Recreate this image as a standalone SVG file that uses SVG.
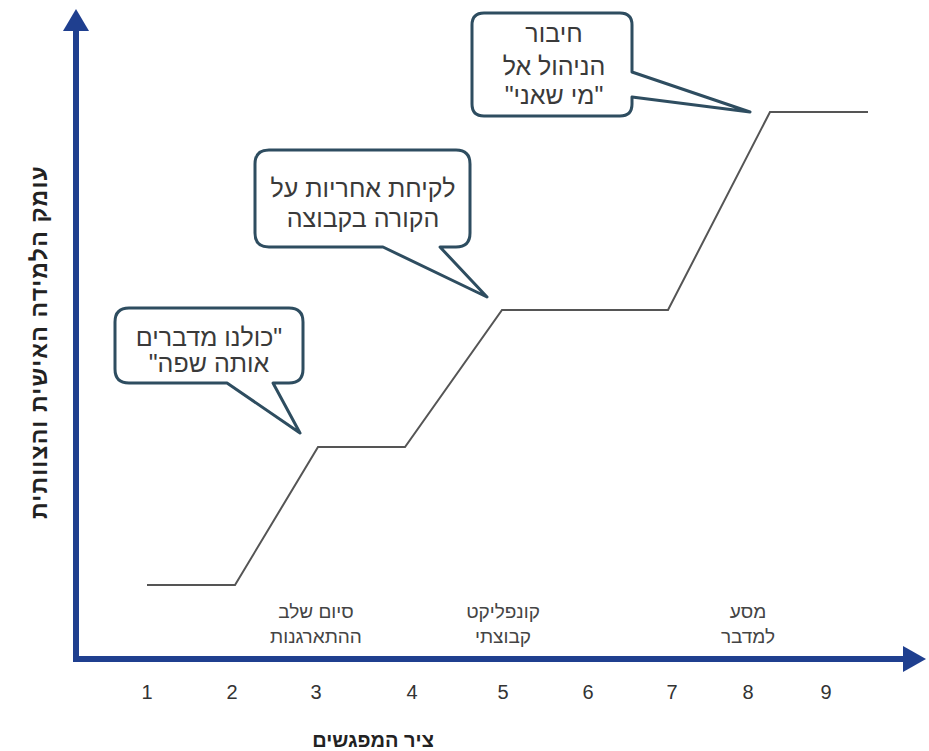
<svg xmlns="http://www.w3.org/2000/svg" width="929" height="751" viewBox="0 0 929 751">
<style>
.axis{stroke:#1f3f8f;stroke-width:6;fill:none}
.head{fill:#1f3f8f}
.step{stroke:#555;stroke-width:2;fill:none}
.call{fill:#fff;stroke:#2e4d60;stroke-width:3;stroke-linejoin:round}
.ct{font-family:"Liberation Sans","DejaVu Sans",sans-serif;font-size:25px;fill:#3a3a3a;text-anchor:middle}
.tick{font-family:"Liberation Sans","DejaVu Sans",sans-serif;font-size:20px;fill:#333;text-anchor:middle}
.lbl{font-family:"Liberation Sans","DejaVu Sans",sans-serif;font-size:19px;fill:#444;text-anchor:middle}
.title{font-family:"Liberation Sans","DejaVu Sans",sans-serif;font-size:20px;font-weight:bold;fill:#222;text-anchor:middle}
</style>
<rect width="929" height="751" fill="#fff"/>
<g id="axes">
<line class="axis" x1="76" y1="26" x2="76" y2="659"/>
<polygon class="head" points="76,9 63,31 89,31"/>
<line class="axis" x1="73" y1="659" x2="905" y2="659"/>
<polygon class="head" points="926,659 903,646 903,672"/>
</g>
<g id="connectors">
<polyline class="step" points="147,585 235,585 318,447 405,447 502,310 668,310 770,112 868,112"/>
</g>
<g id="ticks">
<text class="tick" x="147" y="699">1</text>
<text class="tick" x="232" y="699">2</text>
<text class="tick" x="316" y="699">3</text>
<text class="tick" x="412" y="699">4</text>
<text class="tick" x="503" y="699">5</text>
<text class="tick" x="588" y="699">6</text>
<text class="tick" x="672" y="699">7</text>
<text class="tick" x="748" y="699">8</text>
<text class="tick" x="826" y="699">9</text>
</g>
<g id="stage1">
<text class="lbl" x="316" y="618">סיום שלב</text>
<text class="lbl" x="316" y="643">ההתארגנות</text>
</g>
<g id="stage2">
<text class="lbl" x="503" y="618">קונפליקט</text>
<text class="lbl" x="503" y="643">קבוצתי</text>
</g>
<g id="stage3">
<text class="lbl" x="748" y="618">מסע</text>
<text class="lbl" x="748" y="643">למדבר</text>
</g>
<g id="callout1">
<path class="call" d="M484,13 H620 Q632,13 632,25 V72 L750,112 L632,97 V104 Q632,116 620,116 H484 Q472,116 472,104 V25 Q472,13 484,13 Z"/>
<text class="ct" x="554" y="42">חיבור</text>
<text class="ct" x="554" y="75">הניהול אל</text>
<text class="ct" x="554" y="104">"מי שאני"</text>
</g>
<g id="callout2">
<path class="call" d="M269,150 H456 Q470,150 470,164 V233 Q470,247 456,247 H440 L487,297 L383,247 H269 Q255,247 255,233 V164 Q255,150 269,150 Z"/>
<text class="ct" x="363" y="197">לקיחת אחריות על</text>
<text class="ct" x="363" y="227">הקורה בקבוצה</text>
</g>
<g id="callout3">
<path class="call" d="M129,308 H289 Q303,308 303,322 V369 Q303,383 289,383 H273 L300,433 L227,383 H129 Q115,383 115,369 V322 Q115,308 129,308 Z"/>
<text class="ct" x="209" y="346" direction="rtl">"כולנו מדברים</text>
<text class="ct" x="209" y="372" direction="rtl">אותה שפה"</text>
</g>
<g id="titles">
<text class="title" x="373" y="747">ציר המפגשים</text>
<text class="title" style="font-size:23px;letter-spacing:1.2px" transform="translate(47,342) rotate(-90)">עומק הלמידה האישית והצוותית</text>
</g>
</svg>
